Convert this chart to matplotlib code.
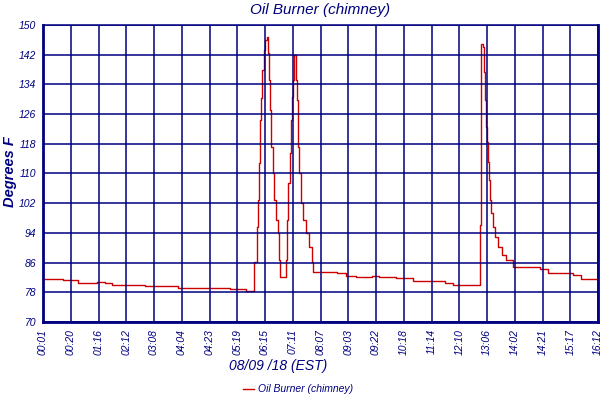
import matplotlib
matplotlib.use("Agg")
import matplotlib.pyplot as plt

plt.rcParams['font.family'] = ['Liberation Sans', 'DejaVu Sans']

navy = '#000080'
red = '#cc0000'

# sample position (in tick intervals) and temperature
pos = [0, 0.72, 1.26, 1.95, 2.23, 2.49, 3.68, 4.86, 6.74, 7.32,
       7.60, 7.71, 7.75, 7.78, 7.82, 7.86, 7.89, 7.96, 8.0, 8.06,
       8.11, 8.14, 8.18, 8.22, 8.29, 8.32, 8.40, 8.47, 8.50, 8.54,
       8.76, 8.79, 8.83, 8.90, 8.94, 8.97, 9.01, 9.05,
       9.12, 9.15, 9.19, 9.23, 9.30, 9.37, 9.48, 9.59, 9.69, 9.73,
       10.59, 10.92, 11.28, 11.86, 12.11, 12.72, 13.33, 14.49, 14.77,
       15.75, 15.78, 15.80, 15.86, 15.89, 15.93, 15.96, 16.0, 16.04,
       16.07, 16.11, 16.14, 16.22, 16.29, 16.40, 16.54, 16.68, 16.94,
       17.91, 18.20, 19.10, 19.39, 20.0]
temp = [81.5, 81.2, 80.6, 80.9, 80.6, 80.0, 79.6, 79.1, 78.8, 78.3,
        86.2, 95.7, 102.9, 112.8, 124.4, 130.3, 137.9, 143.3, 146.0, 146.9,
        142.5, 135.2, 127.1, 117.2, 110.1, 102.9, 97.5, 94.0, 86.7, 82.0,
        86.7, 97.5, 107.4, 115.5, 124.4, 130.7, 135.2, 141.9,
        135.2, 129.8, 117.2, 110.1, 102.0, 97.5, 94.0, 90.3, 86.2, 83.4,
        83.1, 82.4, 82.0, 82.4, 82.0, 81.8, 81.0, 80.6, 80.0,
        96.1, 128.5, 144.9, 144.2, 137.4, 129.8, 122.6, 118.6, 113.2,
        108.3, 102.9, 99.3, 95.7, 93.0, 90.3, 88.1, 86.7, 84.7,
        84.2, 83.1, 82.7, 81.5, 81.1]

time_labels = ['00:01', '00:20', '01:16', '02:12', '03:08', '04:04', '04:23',
               '05:19', '06:15', '07:11', '08:07', '09:03', '09:22', '10:18',
               '11:14', '12:10', '13:06', '14:02', '14:21', '15:17', '16:12']
y_ticks = [70, 78, 86, 94, 102, 110, 118, 126, 134, 142, 150]

fig = plt.figure(figsize=(6, 4), dpi=100)
ax = fig.add_axes([0.0717, 0.195, 0.925, 0.7425])

ax.plot(pos, temp, color=red, lw=1.0, drawstyle='steps-post',
        label='Oil Burner (chimney)')

ax.set_xlim(0, len(time_labels) - 1)
ax.set_ylim(70, 150)
ax.set_xticks(range(len(time_labels)))
ax.set_xticklabels(time_labels, rotation=90, fontstyle='italic',
                   fontsize=7.5, color=navy)
ax.set_yticks(y_ticks)
ax.set_yticklabels([str(t) for t in y_ticks], fontstyle='italic',
                   fontsize=7.5, color=navy)
ax.tick_params(length=0, pad=5)

ax.set_axisbelow(False)
ax.grid(True, color=navy, lw=1.1)
for side in ['left', 'right', 'bottom']:
    ax.spines[side].set_color(navy)
    ax.spines[side].set_linewidth(2.0)
ax.spines['top'].set_color(navy)
ax.spines['top'].set_linewidth(1.1)

fig.text(0.533, 0.975, 'Oil Burner (chimney)', fontstyle='italic',
         fontsize=11, color=navy, ha='center', va='center')
fig.text(0.016, 0.57, 'Degrees F', fontstyle='italic', fontweight='bold',
         fontsize=10.5, color=navy, rotation=90, ha='center', va='center')
fig.text(0.463, 0.085, '08/09 /18 (EST)', fontstyle='italic', fontsize=10,
         color=navy, ha='center', va='center')

fig.legend(loc='center', bbox_to_anchor=(0.497, 0.027), frameon=False,
           handlelength=1.0, handletextpad=0.4,
           prop={'style': 'italic', 'size': 7.5}, labelcolor=navy)

fig.savefig('out.png', dpi=100)
